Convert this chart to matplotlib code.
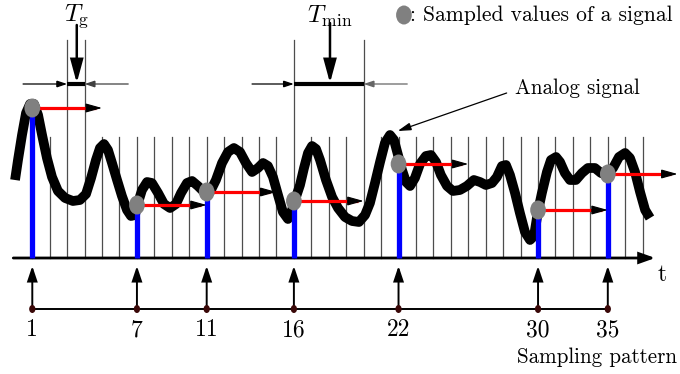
import matplotlib
matplotlib.use("Agg")
import matplotlib.pyplot as plt
from matplotlib.patches import Ellipse

plt.rcParams['mathtext.fontset'] = 'cm'
FONT = ['cmr10', 'DejaVu Serif']

# ---------------- data ----------------
# analog signal (time in grid units, amplitude)
sig_t = [-0.99, -0.82, -0.59, -0.36, -0.13, 0.10, 0.33, 0.56, 0.84, 1.13, 1.47, 1.88, 2.33, 2.73,
         3.08, 3.37, 3.65, 3.88, 4.11, 4.34, 4.57, 4.86, 5.14, 5.43, 5.66, 5.89, 6.06, 6.29, 6.58,
         6.86, 7.21, 7.55, 7.90, 8.24, 8.53, 8.87, 9.16, 9.50, 9.85, 10.19, 10.53, 10.88, 11.22,
         11.56, 11.91, 12.25, 12.60, 12.94, 13.23, 13.51, 13.80, 14.09, 14.37, 14.66, 14.89, 15.12,
         15.35, 15.58, 15.81, 16.04, 16.27, 16.50, 16.84, 17.19, 17.53, 17.93, 18.33, 18.73, 19.08,
         19.36, 19.65, 19.94, 20.22, 20.51, 20.74, 20.97, 21.20, 21.43, 21.66, 21.94, 22.23, 22.57,
         22.86, 23.15, 23.43, 23.78, 24.12, 24.52, 24.92, 25.32, 25.67, 26.01, 26.36, 26.64, 26.93,
         27.16, 27.39, 27.68, 27.96, 28.25, 28.54, 28.77, 29.00, 29.22, 29.51, 29.74, 30.03, 30.26,
         30.54, 30.83, 31.17, 31.52, 31.86, 32.26, 32.61, 32.95, 33.30, 33.64, 33.99, 34.27, 34.56,
         34.85, 35.14, 35.42]
sig_y = [0.78, 0.98, 1.23, 1.45, 1.54, 1.54, 1.43, 1.23, 1.00, 0.81, 0.67, 0.60, 0.57, 0.58,
         0.64, 0.80, 0.98, 1.10, 1.14, 1.08, 0.95, 0.78, 0.62, 0.48, 0.42, 0.43, 0.55, 0.68, 0.76,
         0.75, 0.65, 0.54, 0.50, 0.54, 0.65, 0.75, 0.77, 0.72, 0.66, 0.66, 0.78, 0.95, 1.06,
         1.10, 1.06, 0.95, 0.86, 0.90, 0.95, 0.92, 0.81, 0.63, 0.46, 0.39, 0.48, 0.61,
         0.73, 0.90, 1.05, 1.12, 1.09, 0.98, 0.78, 0.61, 0.50, 0.41, 0.37, 0.36, 0.43,
         0.55, 0.75, 0.96, 1.15, 1.23, 1.18, 1.03, 0.88, 0.76, 0.72, 0.80, 0.94, 1.02,
         1.03, 0.96, 0.83, 0.72, 0.67, 0.68, 0.72, 0.78, 0.76, 0.73, 0.75, 0.81, 0.92,
         0.93, 0.83, 0.65, 0.45, 0.26, 0.18, 0.22, 0.47, 0.65, 0.86, 0.98, 1.01, 0.96,
         0.85, 0.78, 0.78, 0.85, 0.90, 0.90, 0.85, 0.83, 0.90, 1.01, 1.05, 1.00, 0.86,
         0.66, 0.48, 0.40]

# sampled values
sample_labels = ['1', '7', '11', '16', '22', '30', '35']
sample_pos = [0, 6, 10, 15, 21, 29, 33]
sample_val = [1.50, 0.53, 0.66, 0.57, 0.94, 0.48, 0.84]

n_grid = 36          # grid lines 0..35
t_min = 4            # hold length (T_min) in grid units
tg_lines = [2, 3]
tmin_lines = [15, 19]

# ---------------- figure ----------------
fig = plt.figure(figsize=(6.8, 3.74), dpi=100)
ax = fig.add_axes([0, 0, 1, 1])
ax.set_xlim(-1.852, 37.14)
ax.set_ylim(-1.16, 2.58)
ax.axis('off')


def arrow(x0, y0, x1, y1, lw=1.0, hl=6, hw=2.5, color='k', z=5):
    ax.annotate('', xy=(x1, y1), xytext=(x0, y0),
                arrowprops=dict(arrowstyle=f'-|>,head_length={hl},head_width={hw}',
                                mutation_scale=1, lw=lw, color=color,
                                shrinkA=0, shrinkB=0, joinstyle='miter'),
                zorder=z)


grid_top = 1.21
tall_top = 2.18
# grid lines
for i in range(n_grid):
    top = tall_top if (i in tg_lines or i in tmin_lines) else grid_top
    ax.plot([i, i], [0, top], color='0.3', lw=0.9, zorder=1)

# time axis
arrow(-1.09, 0, 35.72, 0, lw=2.0, hl=9, hw=3.2, z=2)
ax.text(35.85, -0.17, 't', fontsize=17, family=FONT, ha='left', va='center')

# signal
ax.plot(sig_t, sig_y, color='k', lw=7.0, solid_joinstyle='round', solid_capstyle='butt', zorder=3)

# blue bars
ax.vlines(sample_pos, 0, sample_val, color='#0000ff', lw=3.8, zorder=4)

# red hold arrows
for p, v in zip(sample_pos, sample_val):
    ax.plot([p, p + t_min - 0.35], [v, v], color='#ff0000', lw=2.3, zorder=5,
            solid_capstyle='butt')
    arrow(p + t_min - 0.5, v, p + t_min, v, lw=0.8, hl=10, hw=2.8, z=6)

# sample points
for p, v in zip(sample_pos, sample_val):
    ax.add_patch(Ellipse((p, v), 0.9, 0.19, color='#808080', zorder=7, lw=0))

# T_g annotation
bar_y = 1.74
ax.plot(tg_lines, [bar_y, bar_y], color='k', lw=3.0, zorder=5, solid_capstyle='butt')
arrow(-0.53, bar_y, tg_lines[0], bar_y, lw=0.9, hl=6, hw=2.0)
arrow(5.5, bar_y, tg_lines[1], bar_y, lw=0.9, hl=6, hw=2.0, color='0.25')
arrow(2.55, 2.33, 2.55, bar_y + 0.01, lw=1.8, hl=14, hw=3.8)
ax.text(2.55, 2.42, r'$T_{\rm g}$', fontsize=18, ha='center', va='center')

# T_min annotation
ax.plot(tmin_lines, [bar_y, bar_y], color='k', lw=3.0, zorder=5, solid_capstyle='butt')
arrow(12.6, bar_y, tmin_lines[0], bar_y, lw=0.9, hl=6, hw=2.0)
arrow(21.5, bar_y, tmin_lines[1], bar_y, lw=0.9, hl=6, hw=2.0, color='0.4')
arrow(17.07, 2.35, 17.07, bar_y + 0.01, lw=1.8, hl=14, hw=3.8)
ax.text(17.07, 2.42, r'$T_{\rm min}$', fontsize=18, ha='center', va='center')

# legend
ax.add_patch(Ellipse((21.31, 2.43), 0.9, 0.19, color='#808080', zorder=7, lw=0))
ax.text(21.68, 2.43, ': Sampled values of a signal', fontsize=15.5, family=FONT,
        ha='left', va='center')

# analog signal annotation
ax.text(27.7, 1.70, 'Analog signal', fontsize=15.2, family=FONT, ha='left', va='center')
arrow(27.2, 1.65, 20.95, 1.27, lw=0.9, hl=8, hw=2.3)

# sampling pattern
pat_y = -0.51
ax.plot([sample_pos[0], sample_pos[-1]], [pat_y, pat_y], color='k', lw=1.4, zorder=2)
for p, lab in zip(sample_pos, sample_labels):
    arrow(p, pat_y, p, -0.08, lw=1.4, hl=9, hw=3.0, z=3)
    ax.add_patch(Ellipse((p, pat_y), 0.36, 0.08, color='#3a0808', zorder=4, lw=0))
    ax.text(p, -0.72, lab, fontsize=17, family=FONT, ha='center', va='center')
ax.text(36.97, -0.99, 'Sampling pattern', fontsize=15.2, family=FONT, ha='right', va='center')

fig.savefig('out.png', dpi=100)
